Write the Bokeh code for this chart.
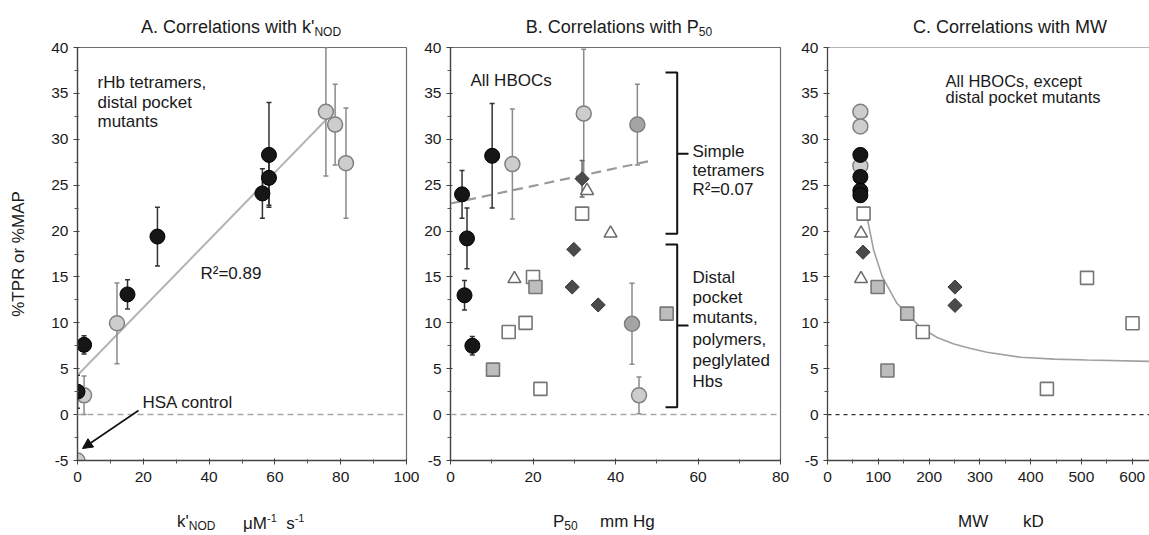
import numpy as np
from bokeh.plotting import figure
from bokeh.layouts import row, column
from bokeh.models import ColumnDataSource, Span, Label, Arrow, NormalHead, FixedTicker, Range1d, Div
from bokeh.embed import file_html
from bokeh.resources import INLINE

FONT = "Liberation Sans"
TXT = "#1a1a1a"

# ---------------- data ----------------
y_ticks = [-5, 0, 5, 10, 15, 20, 25, 30, 35, 40]

# Panel A: k'NOD vs %TPR or %MAP
a_black_knod = [0, 2, 15.2, 24.3, 56.2, 58.2, 58.2]
a_black_tpr = [2.5, 7.6, 13.1, 19.4, 24.1, 25.8, 28.3]
a_black_err = [1.8, 1.0, 1.6, 3.2, 2.7, 3.0, 5.7]
a_grey_knod = [2, 12, 75.5, 78.3, 81.6]
a_grey_tpr = [2.1, 9.95, 33.0, 31.6, 27.4]
a_grey_err = [2.1, 4.4, 7.0, 4.4, 6.0]
a_hsa_knod = [0]
a_hsa_tpr = [-5]
a_fit_knod = [0.3, 76.3]
a_fit_tpr = [4.4, 32.4]
a_xticks = [0, 20, 40, 60, 80, 100]

# Panel B: P50 vs %TPR or %MAP
b_black_p50 = [2.8, 4.0, 3.4, 5.3, 10.1]
b_black_tpr = [24.0, 19.2, 13.0, 7.5, 28.2]
b_black_err = [2.6, 3.3, 1.6, 1.0, 5.7]
b_grey_p50 = [15.0, 32.3, 45.7]
b_grey_tpr = [27.3, 32.8, 2.1]
b_grey_err = [6.0, 7.0, 2.0]
b_hatch_p50 = [45.3, 44.0]
b_hatch_tpr = [31.6, 9.9]
b_hatch_err = [4.4, 4.4]
b_diam_p50 = [31.9, 29.9, 29.5, 35.8]
b_diam_tpr = [25.7, 18.0, 13.9, 11.95]
b_diam_err = [2.0, 0.0, 0.0, 0.0]
b_tri_p50 = [15.5, 33.1, 38.8]
b_tri_tpr = [14.8, 24.4, 19.75]
b_osq_p50 = [20.0, 14.1, 18.2, 21.8, 31.9]
b_osq_tpr = [15.0, 9.0, 10.0, 2.8, 21.9]
b_gsq_p50 = [20.6, 10.3, 52.4]
b_gsq_tpr = [13.9, 4.9, 11.0]
b_fit_p50 = [0, 49]
b_fit_tpr = [23.0, 27.7]
b_xticks = [0, 20, 40, 60, 80]

# Panel C: MW vs %TPR or %MAP
c_grey_mw = [64.7, 64.7, 64.7]
c_grey_tpr = [33.0, 31.4, 27.1]
c_black_mw = [64.7, 64.7, 64.7, 64.7]
c_black_tpr = [28.3, 25.9, 24.4, 23.9]
c_diam_mw = [70, 251, 251]
c_diam_tpr = [17.7, 13.9, 11.9]
c_tri_mw = [66, 66]
c_tri_tpr = [19.75, 14.8]
c_osq_mw = [71, 187.6, 432, 511, 600.6]
c_osq_tpr = [21.9, 9.0, 2.8, 14.9, 9.95]
c_gsq_mw = [98.7, 118, 157]
c_gsq_tpr = [13.9, 4.8, 11.0]
c_fit_mw = [74, 78, 91, 108, 137, 183, 216, 249, 282, 314, 380, 446, 511, 634]
c_fit_tpr = [22.6, 21.5, 17.9, 15.0, 12.1, 9.5, 8.4, 7.7, 7.2, 6.8, 6.25, 6.05, 5.95, 5.8]
c_xticks = [0, 100, 200, 300, 400, 500, 600]

# ---------------- layout constants (page pixels) ----------------
TOPDIV = 36      # height of the title strip
BOTDIV_Y = 510   # page y where the x-label strip starts
TOP, BOT = 47, 460  # frame top / bottom in page pixels
FIG_H = BOTDIV_Y - TOPDIV


def make_fig(xr, width, left_px, mbl, mbr):
    p = figure(width=width, height=FIG_H, x_range=Range1d(*xr), y_range=Range1d(-5, 40),
               output_backend="svg", toolbar_location=None,
               min_border_left=mbl, min_border_right=mbr,
               min_border_top=TOP - TOPDIV, min_border_bottom=BOTDIV_Y - BOT)
    p.xgrid.grid_line_color = None
    p.ygrid.grid_line_color = None
    p.outline_line_color = "#6e6e6e"
    p.outline_line_width = 1.2
    p.background_fill_color = "white"
    p.border_fill_color = "white"
    p.yaxis.ticker = FixedTicker(ticks=y_ticks, minor_ticks=[t + 2.5 for t in y_ticks[:-1]])
    for ax in (p.xaxis[0], p.yaxis[0]):
        ax.axis_line_color = "#444"
        ax.axis_line_width = 1.3
        ax.major_tick_line_color = "#444"
        ax.minor_tick_line_color = "#555"
        ax.major_tick_in = 2
        ax.major_tick_out = 4
        ax.minor_tick_in = 1
        ax.minor_tick_out = 3
        ax.major_label_text_font = FONT
        ax.major_label_text_font_size = "15.5px"
        ax.major_label_text_color = TXT
    p.yaxis.major_label_standoff = 5
    p.xaxis.major_label_standoff = 7
    p.yaxis.major_label_overrides = {-5: "-5"}
    fw = width - mbl - mbr
    p._fx = lambda px: xr[0] + (px - left_px) / fw * (xr[1] - xr[0])
    p._fy = lambda py: 40 - (py - TOP) / (BOT - TOP) * 45.0
    return p


def zero_line(p, color="#a8a8a8", dash="6 4", width=1.5):
    p.add_layout(Span(location=0, dimension="width", line_color=color,
                      line_dash=dash, line_width=width))


def lab(p, px, py, text, size=17, align="left", color=TXT):
    p.add_layout(Label(x=p._fx(px), y=p._fy(py), text=text, text_font=FONT,
                       text_font_size=f"{size}px", text_align=align,
                       text_baseline="alphabetic", text_color=color))


def errbars(p, xs, ys, es, color):
    xs = [x for x, e in zip(xs, es) if e > 0]
    lo = [y - e for y, e in zip(ys, es) if e > 0]
    hi = [y + e for y, e in zip(ys, es) if e > 0]
    src = ColumnDataSource(dict(x=xs, lo=lo, hi=hi))
    p.segment(x0="x", y0="lo", x1="x", y1="hi", source=src, line_color=color, line_width=1.5)
    p.scatter(x="x", y="lo", source=src, marker="dash", size=5, line_color=color, line_width=1.5)
    p.scatter(x="x", y="hi", source=src, marker="dash", size=5, line_color=color, line_width=1.5)


def black_c(p, x, y):
    p.scatter(x, y, marker="circle", size=15, fill_color="#161616", line_color="#000000", line_width=1)


def grey_c(p, x, y, fill="#cdcdcd"):
    p.scatter(x, y, marker="circle", size=15, fill_color=fill, line_color="#808080", line_width=1.5)


def diam(p, x, y):
    p.scatter(x, y, marker="square", angle=np.pi / 4, size=10, fill_color="#4b4b4b",
              line_color="#3a3a3a", line_width=1)


def tri(p, x, y):
    p.scatter(x, y, marker="triangle", size=13, fill_color="white", line_color="#6a6a6a", line_width=1.5)


def osq(p, x, y):
    p.scatter(x, y, marker="square", size=13, fill_color="white", line_color="#767676", line_width=1.6)


def gsq(p, x, y):
    p.scatter(x, y, marker="square", size=13, fill_color="#bdbdbd", line_color="#777777", line_width=1.6)


# ---------------- Panel A ----------------
pA = make_fig((0, 100), 420, 77, 77, 14)
zero_line(pA)
pA.xaxis.ticker = FixedTicker(ticks=a_xticks, minor_ticks=[10, 30, 50, 70, 90])
pA.yaxis.axis_label = "%TPR or %MAP"
pA.yaxis.axis_label_text_font = FONT
pA.yaxis.axis_label_text_font_size = "17px"
pA.yaxis.axis_label_text_font_style = "normal"
pA.yaxis.axis_label_text_color = TXT
pA.yaxis.axis_label_standoff = 20

pA.line(a_fit_knod, a_fit_tpr, line_color="#b4b4b4", line_width=2)
errbars(pA, a_black_knod, a_black_tpr, a_black_err, "#333333")
errbars(pA, a_grey_knod, a_grey_tpr, a_grey_err, "#8a8a8a")
grey_c(pA, a_hsa_knod, a_hsa_tpr)
grey_c(pA, a_grey_knod, a_grey_tpr)
black_c(pA, a_black_knod, a_black_tpr)

lab(pA, 97, 82, "rHb tetramers,")
lab(pA, 97, 101.5, "distal pocket")
lab(pA, 97, 121, "mutants")
lab(pA, 200, 273, "R²=0.89")
lab(pA, 142, 402, "HSA control")
pA.add_layout(Arrow(end=NormalHead(size=10, fill_color="#111", line_color="#111"),
                    x_start=pA._fx(138), y_start=pA._fy(410),
                    x_end=pA._fx(82), y_end=pA._fy(448),
                    line_color="#111", line_width=1.6))

# ---------------- Panel B ----------------
pB = make_fig((0, 80), 370, 450, 30, 10)
zero_line(pB)
pB.xaxis.ticker = FixedTicker(ticks=b_xticks, minor_ticks=[10, 30, 50, 70])

pB.line(b_fit_p50, b_fit_tpr, line_color="#9a9a9a", line_width=2.2, line_dash="10 6")
errbars(pB, b_black_p50, b_black_tpr, b_black_err, "#333333")
errbars(pB, b_grey_p50, b_grey_tpr, b_grey_err, "#8a8a8a")
errbars(pB, b_hatch_p50, b_hatch_tpr, b_hatch_err, "#8a8a8a")
errbars(pB, b_diam_p50, b_diam_tpr, b_diam_err, "#666666")
osq(pB, b_osq_p50, b_osq_tpr)
gsq(pB, b_gsq_p50, b_gsq_tpr)
tri(pB, b_tri_p50, b_tri_tpr)
diam(pB, b_diam_p50, b_diam_tpr)
grey_c(pB, b_grey_p50, b_grey_tpr)
grey_c(pB, b_hatch_p50, b_hatch_tpr, fill="#a4a4a4")
black_c(pB, b_black_p50, b_black_tpr)

# brackets
bx, bl, br = pB._fx(676.7), pB._fx(665), pB._fx(688)
for top, bot, mid in [(72, 233.3, 153.3), (244, 406.7, 325)]:
    yt, yb, ym = pB._fy(top), pB._fy(bot), pB._fy(mid)
    pB.line([bl, bx, bx, bl], [yt, yt, yb, yb], line_color="#111", line_width=2)
    pB.line([bx, br], [ym, ym], line_color="#111", line_width=2)

lab(pB, 470, 80, "All HBOCs")
for py, t in [(150.7, "Simple"), (170, "tetramers"), (189.3, "R²=0.07")]:
    lab(pB, 692, py, t)
for py, t in [(276.7, "Distal"), (297.3, "pocket"), (317.3, "mutants,"),
              (338.5, "polymers,"), (359.5, "peglylated"), (380.5, "Hbs")]:
    lab(pB, 692, py, t)

# ---------------- Panel C ----------------
pC = make_fig((0, 634), 359, 827, 37, 0)
pC.xaxis.ticker = FixedTicker(ticks=c_xticks, minor_ticks=[50, 150, 250, 350, 450, 550])
pC.outline_line_color = None
zero_line(pC, color="#333333", dash="4 4", width=1.2)
pC.add_layout(Span(location=40, dimension="width", line_color="#6e6e6e", line_width=1.2))

pC.line(c_fit_mw, c_fit_tpr, line_color="#a0a0a0", line_width=1.6)
osq(pC, c_osq_mw, c_osq_tpr)
gsq(pC, c_gsq_mw, c_gsq_tpr)
tri(pC, c_tri_mw, c_tri_tpr)
diam(pC, c_diam_mw, c_diam_tpr)
grey_c(pC, c_grey_mw, c_grey_tpr)
black_c(pC, c_black_mw, c_black_tpr)

lab(pC, 945, 80, "All HBOCs, except", 16.5)
lab(pC, 945, 96, "distal pocket mutants", 16.5)

# ---------------- titles and x-axis labels (HTML strips, with sub/superscripts) ----------------
BASE = (f"font-family:'{FONT}',Arial,sans-serif;color:{TXT};position:absolute;"
        "line-height:1;white-space:nowrap;")
SUB = "font-size:12px;vertical-align:-3px;"
SUP = "font-size:11px;vertical-align:7px;"


def span_c(cx, top, size, html):
    return (f'<span style="{BASE}left:{cx}px;top:{top}px;font-size:{size}px;'
            f'transform:translateX(-50%);">{html}</span>')


def span_l(lx, top, size, html):
    return f'<span style="{BASE}left:{lx}px;top:{top}px;font-size:{size}px;">{html}</span>'


title_html = (
    '<div style="position:relative;width:1149px;height:%dpx;">' % TOPDIV
    + span_c(241, 18, 18, f"A. Correlations with k'<span style=\"{SUB}\">NOD</span>")
    + span_c(619, 18, 18, f"B. Correlations with P<span style=\"{SUB}\">50</span>")
    + span_c(1010, 18, 18, "C. Correlations with MW")
    + "</div>"
)
xlab_html = (
    '<div style="position:relative;width:1149px;height:%dpx;">' % (535 - BOTDIV_Y)
    + span_l(177, 3, 17, f"k'<span style=\"{SUB}\">NOD</span>")
    + span_l(243, 3, 17, f"μM<span style=\"{SUP}\">-1</span>&nbsp; s<span style=\"{SUP}\">-1</span>")
    + span_l(553, 3, 17, f"P<span style=\"{SUB}\">50</span>")
    + span_l(600, 3, 17, "mm Hg")
    + span_l(958, 3, 17, "MW")
    + span_l(1023, 3, 17, "kD")
    + "</div>"
)
top_div = Div(text=title_html, width=1149, height=TOPDIV, margin=(0, 0, 0, 0))
bot_div = Div(text=xlab_html, width=1149, height=535 - BOTDIV_Y, margin=(0, 0, 0, 0))

layout = column(top_div, row(pA, pB, pC), bot_div)
open("out.html", "w").write(file_html(layout, INLINE))
